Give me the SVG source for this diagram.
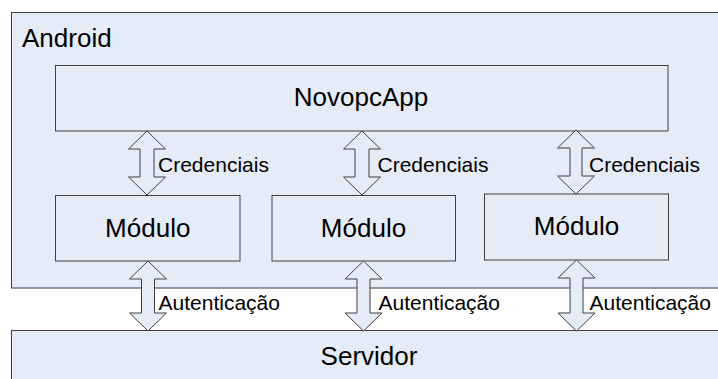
<svg xmlns="http://www.w3.org/2000/svg" width="718" height="379" viewBox="0 0 718 379">
<style>
.box{fill:#E6ECF7;stroke:#3F3F3F;stroke-width:1}
.arr{fill:#E6ECF7;stroke:#3F3F3F;stroke-width:1;stroke-linejoin:miter}
text{font-family:"Liberation Sans",Arial,sans-serif;fill:#000}
.big{font-size:26px}
.small{font-size:21px}
</style>
<rect width="718" height="379" fill="#FFFFFF"/>
<g id="android">
<rect class="box" x="11.5" y="12.5" width="720" height="275.5"/>
<text class="big" x="22" y="46.5">Android</text>
</g>
<g id="servidor">
<rect class="box" x="11.5" y="330.5" width="720" height="60"/>
<text class="big" x="369" y="365" text-anchor="middle">Servidor</text>
</g>
<g id="novopcapp">
<rect class="box" x="55.5" y="65.5" width="612.5" height="65.5"/>
<text class="big" x="361" y="106" text-anchor="middle">NovopcApp</text>
</g>
<g id="modulo1">
<rect class="box" x="55.5" y="195.5" width="184.5" height="65.5"/>
<text class="big" x="147.75" y="236.5" text-anchor="middle">Módulo</text>
</g>
<g id="modulo2">
<rect class="box" x="272" y="195.5" width="183.5" height="65.5"/>
<text class="big" x="363.5" y="236.5" text-anchor="middle">Módulo</text>
</g>
<g id="modulo3">
<rect class="box" x="484.5" y="194" width="184" height="66"/>
<text class="big" x="576.5" y="235" text-anchor="middle">Módulo</text>
</g>
<g id="connectors">
<polygon class="arr" points="147,131 165.5,149 154,149 154,177 165.5,177 147,195 128.5,177 140,177 140,149 128.5,149"/>
<polygon class="arr" points="362,131 380.5,149 369,149 369,177 380.5,177 362,195 343.5,177 355,177 355,149 343.5,149"/>
<polygon class="arr" points="576,130 594.5,148 582,148 582,176 594.5,176 576,194 557.5,176 570,176 570,148 557.5,148"/>
<polygon class="arr" points="148,261 166.5,279 154.5,279 154.5,313 166.5,313 148,331 129.5,313 141.5,313 141.5,279 129.5,279"/>
<polygon class="arr" points="363.5,261 382,279 370,279 370,313 382,313 363.5,331 345,313 357,313 357,279 345,279"/>
<polygon class="arr" points="576.5,260 595,278 583,278 583,313 595,313 576.5,331 558,313 570,313 570,278 558,278"/>
<text class="small" x="158" y="171.5">Credenciais</text>
<text class="small" x="377.5" y="171.5">Credenciais</text>
<text class="small" x="589" y="171.5">Credenciais</text>
<text class="small" x="158.5" y="310">Autenticação</text>
<text class="small" x="378.5" y="310">Autenticação</text>
<text class="small" x="589.5" y="310">Autenticação</text>
</g>
</svg>
